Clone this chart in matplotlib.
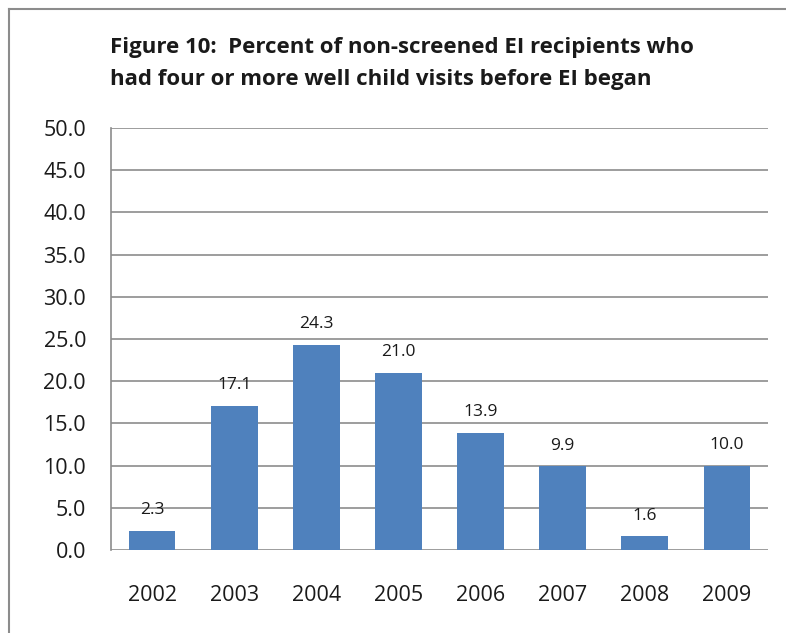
import matplotlib
matplotlib.use("Agg")
import matplotlib.pyplot as plt

years = ["2002", "2003", "2004", "2005", "2006", "2007", "2008", "2009"]
values = [2.3, 17.1, 24.3, 21.0, 13.9, 9.9, 1.6, 10.0]
yticks = [0, 5, 10, 15, 20, 25, 30, 35, 40, 45, 50]

W, H = 786, 633
fig = plt.figure(figsize=(W / 100, H / 100), dpi=100)
font = "Open Sans"

# outer frame (only left/top visible)
fig.add_artist(plt.Line2D([9 / W, 9 / W], [0, 1 - 9 / H], transform=fig.transFigure,
                          color="#8c8c8c", lw=1.5))
fig.add_artist(plt.Line2D([9 / W, 1], [1 - 9 / H, 1 - 9 / H], transform=fig.transFigure,
                          color="#8c8c8c", lw=1.5))

left, right, top, bottom = 111, 768, 128, 550
ax = fig.add_axes([left / W, 1 - bottom / H, (right - left) / W, (bottom - top) / H])

x = list(range(len(years)))
ax.bar(x, values, width=0.57, color="#4F81BD", zorder=3)
for xi, v in zip(x, values):
    ax.text(xi, v + 1.5, f"{v:.1f}", ha="center", va="bottom", fontsize=12.5,
            family=font, color="#1a1a1a", zorder=4)

ax.set_xlim(-0.5, len(years) - 0.5)
ax.set_ylim(0, 50)
ax.set_yticks(yticks)
ax.set_yticklabels([f"{t:.1f}" for t in yticks], family=font, fontsize=15.5, color="#1a1a1a")
ax.set_xticks(x)
ax.set_xticklabels(years, family=font, fontsize=15.5, color="#1a1a1a")
ax.tick_params(axis="both", length=0)
ax.tick_params(axis="y", pad=18)
ax.tick_params(axis="x", pad=25)
ax.yaxis.grid(True, color="#8c8c8c", lw=1.2, zorder=0)
for s in ["top", "right", "bottom"]:
    ax.spines[s].set_visible(False)
ax.spines["left"].set_color("#8c8c8c")
ax.spines["left"].set_linewidth(1.2)

fig.text(110 / W, 1 - 63.5 / H,
         "Figure 10:  Percent of non-screened EI recipients who\nhad four or more well child visits before EI began",
         ha="left", va="center", fontsize=16, fontweight="bold", family=font,
         color="#1a1a1a", linespacing=1.7)

fig.savefig("out.png", dpi=100, facecolor="white")
